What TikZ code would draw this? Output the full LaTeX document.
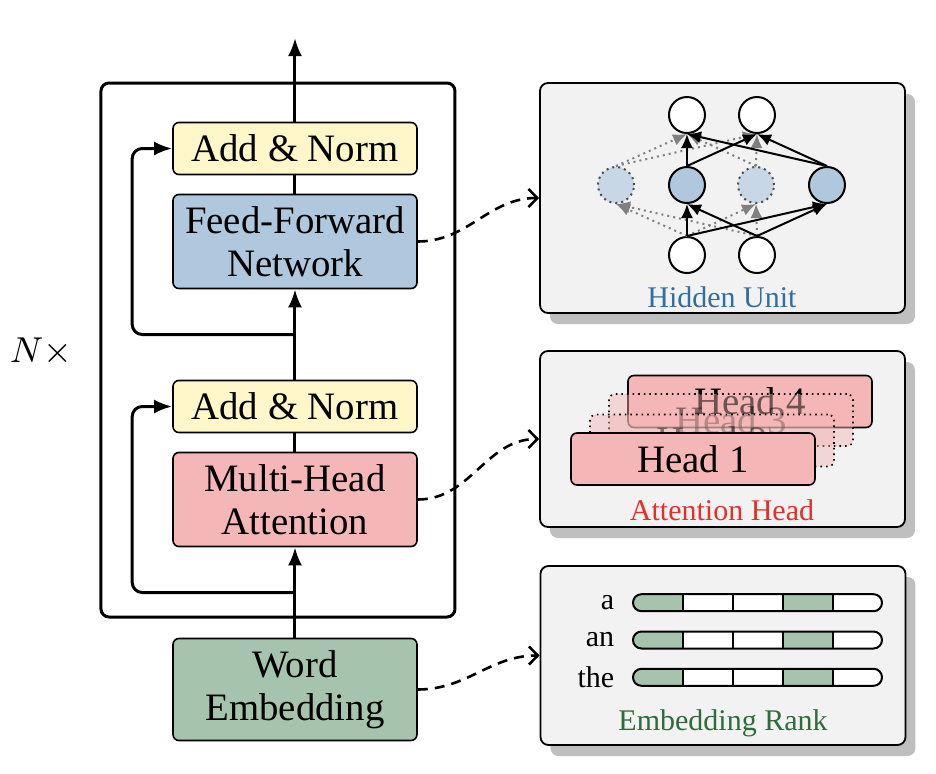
\documentclass[tikz,border=0pt]{standalone}
\usepackage{fontspec}
\setmainfont{Liberation Serif}
\usetikzlibrary{positioning,calc,shadows,arrows.meta}

\definecolor{normyellow}{RGB}{255,247,201}
\definecolor{ffnblue}{RGB}{176,200,222}
\definecolor{attnpink}{RGB}{244,182,182}
\definecolor{embgreen}{RGB}{166,196,173}
\definecolor{panelgray}{RGB}{242,242,242}
\definecolor{hidlight}{RGB}{199,215,229}
\definecolor{labblue}{RGB}{51,110,159}
\definecolor{labred}{RGB}{228,48,40}
\definecolor{labgreen}{RGB}{47,107,60}

\tikzset{
	block/.style={draw, rounded corners=1.5pt, line width=0.4pt, align=center, inner sep=1pt,
		minimum width=61pt, font=\fontsize{9.7pt}{10.75pt}\selectfont},
	addnorm/.style={block, fill=normyellow, minimum height=13pt},
	sublayer/.style={block, minimum height=23.5pt},
	wire/.style={line width=0.75pt},
	flow/.style={wire, -{Latex[length=4.5pt,width=3.5pt]}},
	link/.style={line width=0.65pt, dash pattern=on 2.5pt off 1.75pt,
		-{Straight Barb[length=2.2pt,width=4.5pt]}},
	panel/.style={draw, fill=panelgray, rounded corners=2pt, line width=0.45pt,
		minimum width=91.25pt,
		drop shadow={shadow xshift=2.5pt, shadow yshift=-2.75pt, fill=black!25, opacity=1}},
	panellab/.style={font=\fontsize{7.5pt}{9pt}\selectfont},
	unit/.style={circle, draw, line width=0.5pt, minimum size=9pt, inner sep=0pt, fill=white},
	hid/.style={unit, fill=ffnblue},
	dropped/.style={unit, fill=hidlight, draw=black!70, densely dotted},
	nnedge/.style={line width=0.5pt, -{Latex[length=3.5pt,width=3pt]}},
	dropedge/.style={gray, densely dotted, line width=0.5pt, -{Latex[length=3.5pt,width=3pt]}},
	head/.style={block, fill=attnpink, minimum height=13pt},
	ghost/.style={head, densely dotted, fill opacity=0.45}
}

\begin{document}
\begin{tikzpicture}[x=0.25pt, y=-0.25pt]
	\useasboundingbox (0,0) rectangle (936,774);

	% encoder layer
	\node [block, fill=embgreen, minimum height=25.5pt] (embed) at (295,689.5) {Word\\Embedding};
	\node [sublayer, fill=attnpink, above=22.6pt of embed] (attn) {Multi-Head\\Attention};
	\node [addnorm, above=4.6pt of attn] (norma) {Add \& Norm};
	\node [sublayer, fill=ffnblue, above=22.6pt of norma] (ffn) {Feed-Forward\\Network};
	\node [addnorm, above=4.6pt of ffn] (normb) {Add \& Norm};
	\node [draw, line width=0.75pt, rounded corners=2pt, minimum width=88.5pt, minimum height=133.5pt] (stack) at (278,350) {};
	\node [font=\fontsize{9pt}{11pt}\selectfont] (rep) at (41,352) {$N\times$};
	\coordinate (top) at (295,38);

	\draw [flow] (normb.north) -- (top);
	\draw [wire] (ffn.north) -- (normb.south);
	\draw [flow] (norma.north) -- (ffn.south);
	\draw [wire] (attn.north) -- (norma.south);
	\draw [flow] (embed.north) -- (attn.south);
	\draw [flow, rounded corners=2.5pt] ($(norma.north)!0.5!(ffn.south)$) -| ($(normb.west)+(-40,0)$) -- (normb.west);
	\draw [flow, rounded corners=2.5pt] ($(embed.north)!0.5!(attn.south)$) -| ($(norma.west)+(-40,0)$) -- (norma.west);

	% panels
	\node [panel, minimum height=57.5pt] (hidpanel) at (722.5,198) {};
	\node [panel, minimum height=44pt] (headpanel) at (722.5,439) {};
	\node [panel, minimum height=44.75pt] (embpanel) at (723,655.5) {};

	\draw [link] (ffn.east) to[out=0, in=180] (hidpanel.west);
	\draw [link] (attn.east) to[out=0, in=180] (headpanel.west);
	\draw [link] (embed.east) to[out=0, in=180] (embpanel.west);

	% hidden unit
	\node [unit] (t1) at (687,115) {};
	\node [unit] (t2) at (757,115) {};
	\node [dropped] (h1) at (616,185) {};
	\node [hid] (h2) at (687,185) {};
	\node [dropped] (h3) at (756,185) {};
	\node [hid] (h4) at (827,185) {};
	\node [unit] (b1) at (687,255) {};
	\node [unit] (b2) at (757,255) {};
	\foreach \s in {b1,b2} \foreach \t in {h1,h3} \draw [dropedge] (\s.north) -- (\t.south);
	\foreach \s in {h1,h3} \foreach \t in {t1,t2} \draw [dropedge] (\s.north) -- (\t.south);
	\foreach \s in {b1,b2} \foreach \t in {h2,h4} \draw [nnedge] (\s.north) -- (\t.south);
	\foreach \s in {h2,h4} \foreach \t in {t1,t2} \draw [nnedge] (\s.north) -- (\t.south);
	\node [panellab, text=labblue] (hidlab) at (722,297) {Hidden Unit};

	% attention heads
	\node [head] (head4) at (750,401.5) {Head 4};
	\node [ghost] (head3) at (731,420) {Head 3};
	\node [ghost] (head2) at (712,440.5) {Head 2};
	\node [head] (head1) at (693,459) {Head 1};
	\node [panellab, text=labred] (headlab) at (722,510) {Attention Head};

	% embedding rank
	\foreach \w/\y in {a/602.7, an/640, the/677.3} {
		\node [panellab, anchor=east, inner sep=0pt] (w\w) at (615,\y) {\w};
		\fill [white, rounded corners=2.12pt] (633,\y-8.5) rectangle (882,\y+8.5);
		\begin{scope}
			\clip [rounded corners=2.12pt] (633,\y-8.5) rectangle (882,\y+8.5);
			\fill [embgreen] (633,\y-8.5) rectangle (683,\y+8.5);
			\fill [embgreen] (783,\y-8.5) rectangle (833,\y+8.5);
		\end{scope}
		\foreach \x in {683,733,783,833} \draw [line width=0.4pt] (\x,\y-8.5) -- (\x,\y+8.5);
		\draw [line width=0.5pt, rounded corners=2.12pt] (633,\y-8.5) rectangle (882,\y+8.5);
	}
	\node [panellab, text=labgreen] (emblab) at (723,723) {Embedding Rank};
\end{tikzpicture}
\end{document}
